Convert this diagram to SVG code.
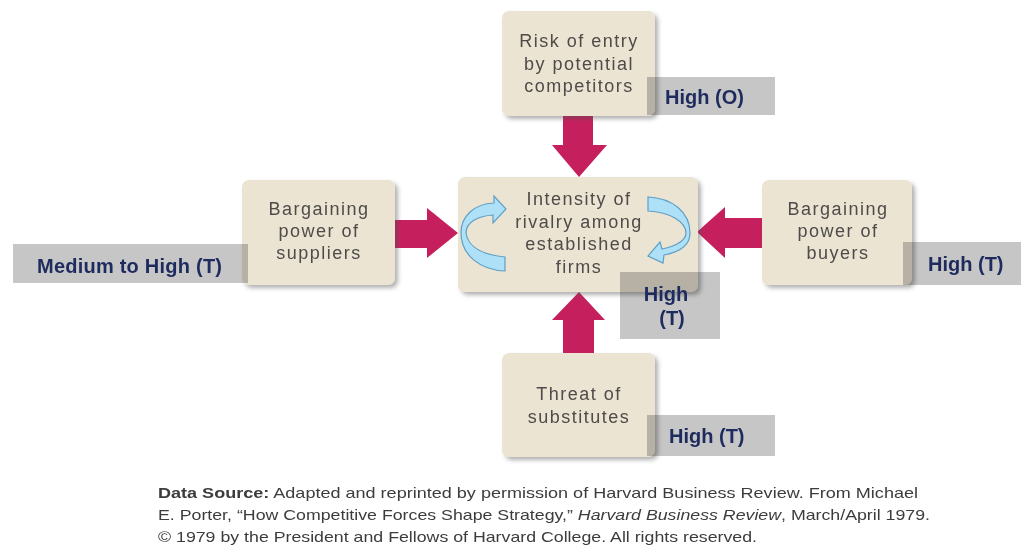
<svg xmlns="http://www.w3.org/2000/svg" width="1021" height="545" viewBox="0 0 1021 545">
<defs>
<filter id="sh" x="-10%" y="-10%" width="125%" height="130%">
<feDropShadow dx="3" dy="3" stdDeviation="2" flood-color="#555" flood-opacity="0.45"/>
</filter>
<style>
.box{fill:#ebe4d3;filter:url(#sh)}
.tag{fill:#c6c6c6;mix-blend-mode:multiply}
.bt{font-family:"Liberation Sans",Arial,sans-serif;font-size:18px;letter-spacing:1.5px;fill:#4e4b48;text-anchor:middle}
.lt{font-family:"Liberation Sans",Arial,sans-serif;font-size:20px;font-weight:bold;fill:#1e2b5e}
.arr{fill:#c51f5d}
.rot{fill:#aee0f7;stroke:#5f9fc6;stroke-width:1.2}
.ft{font-family:"Liberation Sans",Arial,sans-serif;font-size:15px;fill:#3c3c3c}
</style>
</defs>
<rect width="1021" height="545" fill="#fff"/>

<g id="connectors">
<path class="arr" d="M563,116 H593 V145 H607 L579,177 L552,145 H563 Z"/>
<path class="arr" d="M395,220 H427 V208 L458,233 L427,258 V248 H395 Z"/>
<path class="arr" d="M762,218 H725 V207 L697,232 L725,258 V248 H762 Z"/>
<path class="arr" d="M563,353 V320 H552 L579,292 L605,320 H594 V353 Z"/>
</g>

<g id="top">
<rect class="box" x="502" y="11" width="153" height="105" rx="7"/>
<text class="bt" x="579" y="47">Risk of entry</text>
<text class="bt" x="579" y="70">by potential</text>
<text class="bt" x="579" y="92">competitors</text>
<rect class="tag" x="647" y="77" width="128" height="38"/>
<text class="lt" x="665" y="104">High (O)</text>
</g>

<g id="center">
<rect class="box" x="458" y="177" width="240" height="115" rx="7"/>
<path class="rot" d="M505,257 C485,255 468,248 466,233 C466,222 478,216 493,215 L493,223 L506,209 L494,196 L494,203 C474,204 461,216 461,233 C461,255 480,270 505,271 Z"/>
<path class="rot" d="M648,197 C672,198 690,212 690,233 C690,245 680,252 664,255 L663,263 L648,256 L660,242 L662,249 C677,246 686,240 686,233 C686,222 670,212 648,211 Z"/>
<text class="bt" x="579" y="205">Intensity of</text>
<text class="bt" x="579" y="228">rivalry among</text>
<text class="bt" x="579" y="250">established</text>
<text class="bt" x="579" y="273">firms</text>
<rect class="tag" x="620" y="272" width="100" height="67"/>
<text class="lt" x="666" y="301" text-anchor="middle">High</text>
<text class="lt" x="672" y="325" text-anchor="middle">(T)</text>
</g>

<g id="suppliers">
<rect class="box" x="242" y="180" width="153" height="105" rx="7"/>
<text class="bt" x="319" y="215">Bargaining</text>
<text class="bt" x="319" y="237">power of</text>
<text class="bt" x="319" y="259">suppliers</text>
<rect class="tag" x="13" y="244" width="235" height="39"/>
<text class="lt" x="37" y="273" textLength="185" lengthAdjust="spacing">Medium to High (T)</text>
</g>

<g id="buyers">
<rect class="box" x="762" y="180" width="150" height="105" rx="7"/>
<text class="bt" x="838" y="215">Bargaining</text>
<text class="bt" x="838" y="237">power of</text>
<text class="bt" x="838" y="259">buyers</text>
<rect class="tag" x="903" y="242" width="118" height="43"/>
<text class="lt" x="928" y="271">High (T)</text>
</g>

<g id="substitutes">
<rect class="box" x="502" y="353" width="153" height="104" rx="7"/>
<text class="bt" x="579" y="400">Threat of</text>
<text class="bt" x="579" y="423">substitutes</text>
<rect class="tag" x="647" y="415" width="128" height="41"/>
<text class="lt" x="669" y="443">High (T)</text>
</g>

<g id="source">
<text class="ft" x="158" y="498" textLength="760" lengthAdjust="spacingAndGlyphs"><tspan font-weight="bold">Data Source:</tspan> Adapted and reprinted by permission of Harvard Business Review. From Michael</text>
<text class="ft" x="158" y="520" textLength="772" lengthAdjust="spacingAndGlyphs">E. Porter, “How Competitive Forces Shape Strategy,” <tspan font-style="italic">Harvard Business Review</tspan>, March/April 1979.</text>
<text class="ft" x="158" y="542" textLength="599" lengthAdjust="spacingAndGlyphs">© 1979 by the President and Fellows of Harvard College. All rights reserved.</text>
</g>
</svg>
